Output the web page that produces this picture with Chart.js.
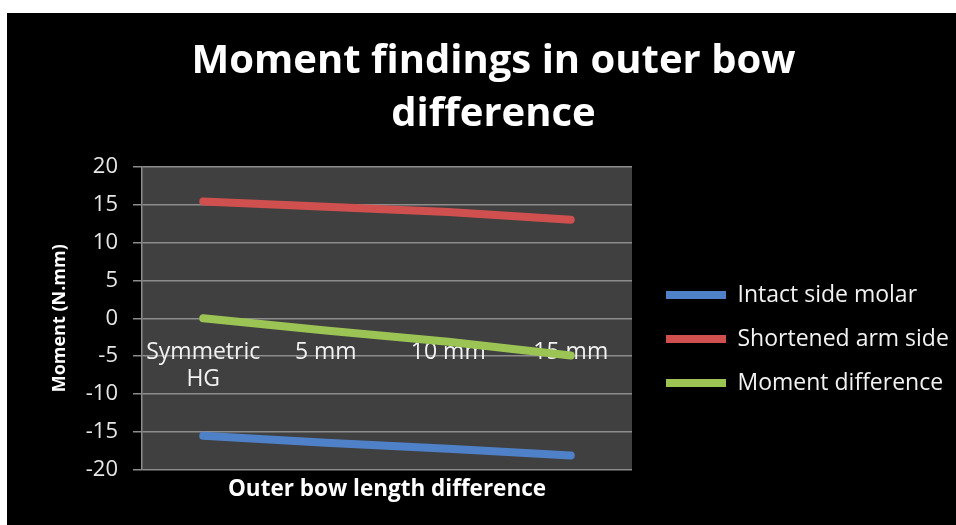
<!DOCTYPE html>
<html>
<head>
<meta charset="utf-8">
<script src="https://cdn.jsdelivr.net/npm/chart.js@4"></script>
<style>
  html, body { margin: 0; padding: 0; background: #fff; }
  #wrap { position: absolute; left: 7px; top: 13px; width: 949px; height: 512px; background: #000; }
</style>
</head>
<body>
<div id="wrap"><canvas id="momentChart" width="949" height="512"></canvas></div>
<script>
// Chart data
const categories = [['Symmetric', 'HG'], '5 mm', '10 mm', '15 mm'];
const intactSide = [-15.5, -16.4, -17.2, -18.1];
const shortenedArm = [15.4, 14.7, 14.0, 13.0];
const momentDiff = [0, -1.6, -3.1, -4.9];
const yTicks = [-20, -15, -10, -5, 0, 5, 10, 15, 20];

const FONT = "'Open Sans', sans-serif";

// Dark grey plot background like the Excel original
const plotBackground = {
    id: 'plotBackground',
    beforeDraw(chart) {
        const { ctx, chartArea } = chart;
        ctx.save();
        ctx.fillStyle = '#000';
        ctx.fillRect(0, 0, chart.width, chart.height);
        ctx.fillStyle = '#404040';
        ctx.fillRect(chartArea.left, chartArea.top, chartArea.right - chartArea.left, chartArea.bottom - chartArea.top);
        ctx.restore();
    }
};

// Fixed legend width so the plot keeps its size, then nudge legend and title
const layoutTweaks = {
    id: 'layoutTweaks',
    beforeLayout(chart) {
        const lg = chart.legend;
        if (lg && !lg._fixedWidth) {
            const fit = lg.fit;
            lg.fit = function () {
                fit.call(this);
                this.width = 324;
            };
            lg._fixedWidth = true;
        }
    },
    afterLayout(chart) {
        const lg = chart.legend;
        lg.left += 13; lg.right += 13;
        lg.top += 70; lg.bottom += 70;
        const tb = chart.titleBlock;
        tb.left += 12; tb.right += 12;
    }
};

function makeSeries(label, data, color) {
    return {
        label,
        data,
        borderColor: color,
        backgroundColor: color,
        borderWidth: 8,
        borderCapStyle: 'round',
        pointRadius: 0,
        pointStyle: 'line',
        tension: 0
    };
}

const ctx = document.getElementById('momentChart').getContext('2d');
const momentChart = new Chart(ctx, {
    type: 'line',
    data: {
        labels: categories,
        datasets: [
            makeSeries('Intact side molar', intactSide, '#4f81c8'),
            makeSeries('Shortened arm side', shortenedArm, '#d0504f'),
            makeSeries('Moment difference', momentDiff, '#9bc455')
        ]
    },
    options: {
        responsive: false,
        animation: false,
        plugins: {
            title: {
                display: true,
                text: ['Moment findings in outer bow', 'difference'],
                color: '#fff',
                font: { family: FONT, size: 40, weight: 'bold', lineHeight: 1.32 },
                padding: { top: 22, bottom: 26 }
            },
            legend: {
                position: 'right',
                labels: {
                    color: '#f2f2f2',
                    font: { family: FONT, size: 23 },
                    usePointStyle: true,
                    pointStyleWidth: 60,
                    padding: 21
                }
            },
            tooltip: { enabled: false }
        },
        scales: {
            x: {
                type: 'category',
                position: { y: 0 },
                offset: true,
                grid: { display: false, drawTicks: false },
                border: { display: false },
                ticks: {
                    color: '#f2f2f2',
                    font: { family: FONT, size: 23 },
                    padding: 20,
                    maxRotation: 0
                }
            },
            x2: {
                type: 'category',
                axis: 'x',
                position: 'bottom',
                grid: { display: false },
                border: { display: false },
                ticks: { display: false },
                title: {
                    display: true,
                    text: 'Outer bow length difference',
                    color: '#fff',
                    font: { family: FONT, size: 22.5, weight: 'bold' },
                    padding: { top: 0, bottom: 22 }
                },
                afterFit(scale) { scale.height = 55; }
            },
            y: {
                min: yTicks[0],
                max: yTicks[yTicks.length - 1],
                ticks: {
                    stepSize: yTicks[1] - yTicks[0],
                    color: '#e6e6e6',
                    font: { family: FONT, size: 22 },
                    padding: 15
                },
                grid: { color: '#8c8c8c', lineWidth: 1.5, tickLength: 9 },
                border: { color: '#8c8c8c', width: 1.5 },
                title: {
                    display: true,
                    text: 'Moment (N.mm)',
                    color: '#fff',
                    font: { family: FONT, size: 18, weight: 'bold' },
                    padding: { top: 42, bottom: 0 }
                },
                afterFit(scale) { scale.width = 135; }
            }
        }
    },
    plugins: [plotBackground, layoutTweaks]
});
</script>
</body>
</html>
